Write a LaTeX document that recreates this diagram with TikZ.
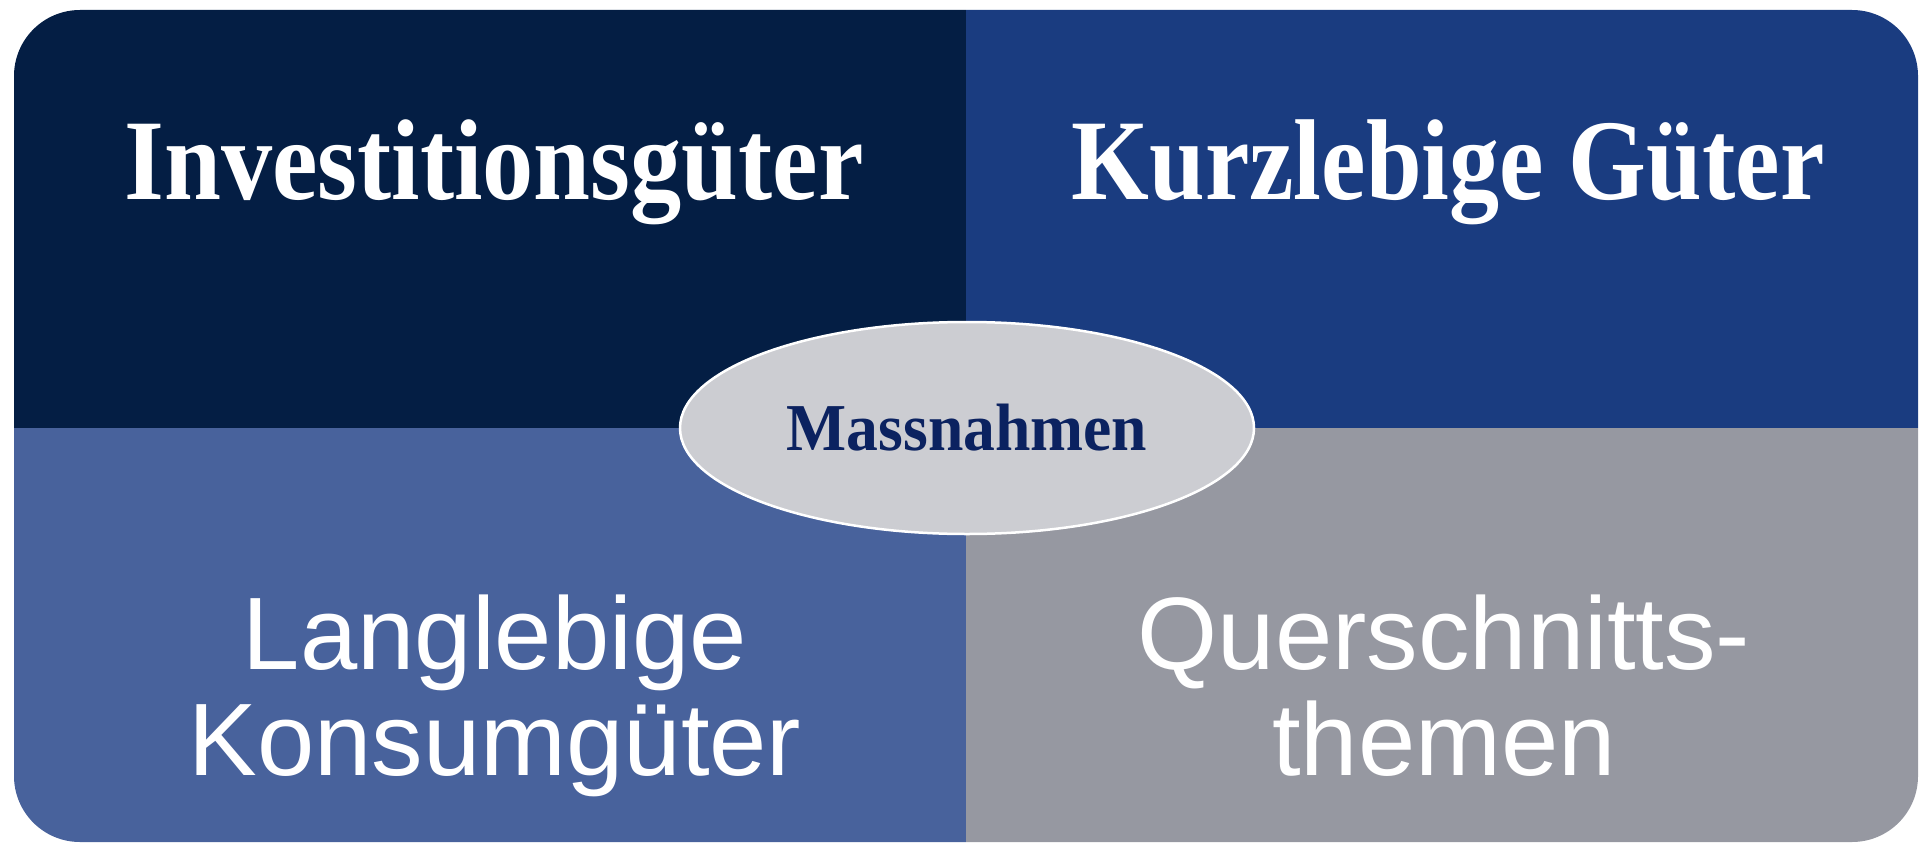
\documentclass[tikz,border=0pt]{standalone}
\usepackage{fontspec}
\usepackage{graphicx}
\usetikzlibrary{shapes.geometric}
\setmainfont{Liberation Serif}
\newfontfamily\arialfont{Liberation Sans}
\definecolor{tlcol}{HTML}{041E44}
\definecolor{trcol}{HTML}{1A3C80}
\definecolor{blcol}{HTML}{48629C}
\definecolor{brcol}{HTML}{9698A1}
\definecolor{ellfill}{HTML}{CCCDD2}
\definecolor{elltext}{HTML}{0B2260}
\tikzset{
  headlabel/.style={text=white, inner sep=0pt, anchor=base,
    font=\fontsize{115}{115}\selectfont\bfseries},
  sanslabel/.style={text=white, inner sep=0pt, anchor=base, align=center,
    font=\arialfont\fontsize{103}{106}\selectfont},
  centerell/.style={ellipse, draw=white, line width=2.5pt, fill=ellfill,
    minimum width=574pt, minimum height=212pt, inner sep=0pt,
    text=elltext, font=\fontsize{67}{67}\selectfont\bfseries}
}
\begin{document}
\begin{tikzpicture}[x=1pt,y=-1pt]
\useasboundingbox (0,0) rectangle (1927,843);
\begin{scope}
  \clip[rounded corners=66pt] (14,10) rectangle (1918,842);
  \fill[tlcol] (0,0) rectangle (966,428);
  \fill[trcol] (966,0) rectangle (1927,428);
  \fill[blcol] (0,428) rectangle (966,843);
  \fill[brcol] (966,428) rectangle (1927,843);
\end{scope}
\node[headlabel] (inv) at (494,199) {\scalebox{0.89}[1]{Investitionsgüter}};
\node[headlabel] (kurz) at (1448,199) {\scalebox{0.87}[1]{Kurzlebige Güter}};
\node[sanslabel] (lang) at (495,775) {Langlebige\\Konsumgüter};
\node[sanslabel] (quer) at (1444,775) {Querschnitts-\\themen};
\node[centerell] (mass) at (967,428) {\scalebox{0.95}[1]{Massnahmen}};
\end{tikzpicture}
\end{document}
